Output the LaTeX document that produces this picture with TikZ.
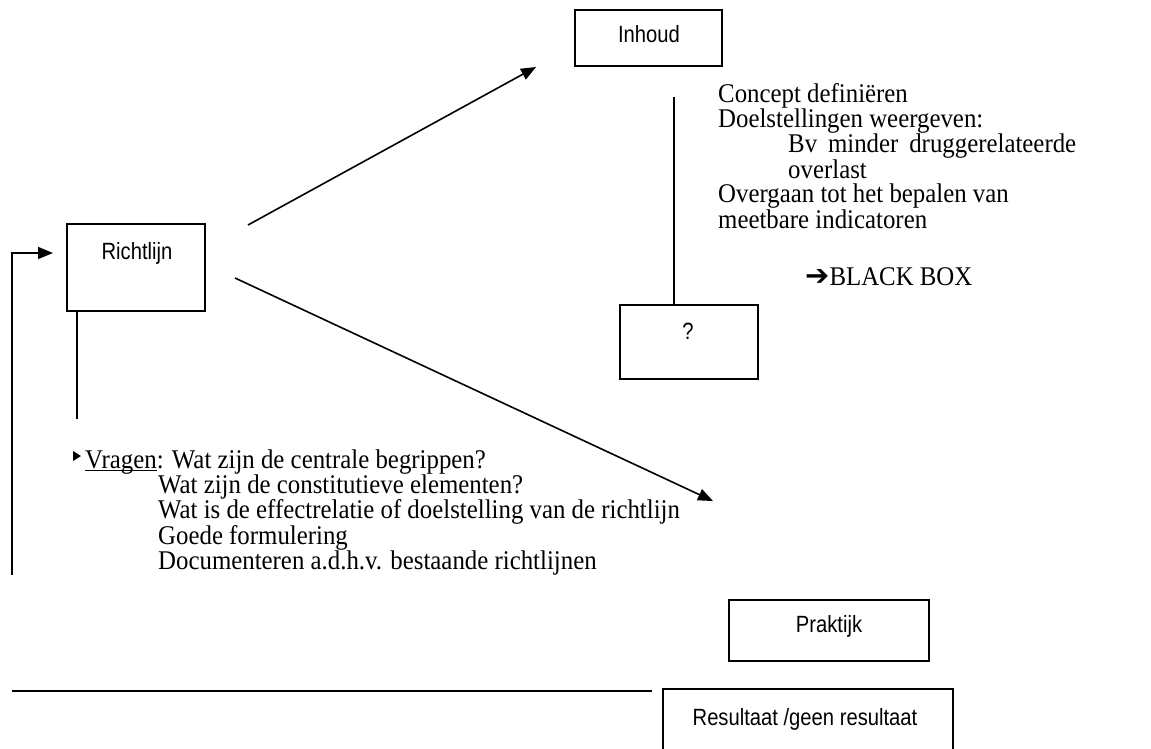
\documentclass[tikz,border=0pt]{standalone}
\usepackage{fontspec}
\setmainfont{Liberation Serif}
\newfontfamily\notefont[FakeStretch=0.92]{Liberation Serif}
\newfontfamily\boxfont[FakeStretch=0.86]{Liberation Sans}
\newfontfamily\symfont{DejaVu Sans}
\usetikzlibrary{arrows.meta}

\newcommand\notesize{\notefont\fontsize{27}{24.5}\selectfont}
\newcommand\qsize{\notefont\fontsize{27}{25.2}\selectfont}
\newcommand\boxsize{\boxfont\fontsize{23.5}{26}\selectfont}
% underline sitting just below the baseline
\newcommand\underword[1]{\setbox0\hbox{#1}\rlap{\rule[-3pt]{\wd0}{1.3pt}}\box0}

\begin{document}
\begin{tikzpicture}[x=1pt,y=-1pt,
  frame/.style={draw, line width=1.6pt, inner sep=0pt, outer sep=0pt, anchor=north west},
  boxlabel/.style={font=\boxsize, inner sep=0pt, anchor=base},
  notes/.style={font=\notesize, inner sep=0pt, anchor=north west, align=left},
  conn/.style={line width=1.6pt},
  tip/.style={-{Triangle[length=15pt,width=12pt]}}]
\useasboundingbox (0,0) rectangle (1151,749);
\clip (0,0) rectangle (1151,749);

% boxes
\node[frame, minimum width=147pt, minimum height=56pt] (inhoud) at (575,10) {};
\node[frame, minimum width=138pt, minimum height=87pt] (richtlijn) at (67,224) {};
\node[frame, minimum width=138pt, minimum height=74pt] (quest) at (620,305) {};
\node[frame, minimum width=200pt, minimum height=61pt] (praktijk) at (729,600) {};
\node[frame, minimum width=290pt, minimum height=90pt] (resultaat) at (663,689) {};

% box captions
\node[boxlabel] (inhoudtxt) at (649,43) {Inhoud};
\node[boxlabel] (richtlijntxt) at (137,259) {Richtlijn};
\node[boxlabel] (questtxt) at (688,339) {?};
\node[boxlabel] (praktijktxt) at (829,632) {Praktijk};
\node[boxlabel] (resultaattxt) at (805,725) {Resultaat /geen resultaat};

% notes under Inhoud
\node[notes] (inhoudnotes) at (718,83.5) {Concept definiëren\\
Doelstellingen weergeven:\\
\hspace*{70pt}\hbox to 288pt{Bv\hfill minder\hfill druggerelateerde}\\
\hspace*{70pt}overlast\\
Overgaan tot het bepalen van\\
meetbare indicatoren};
\node[notes, anchor=base west] (blackbox) at (805,285) {{\symfont\bfseries\fontsize{29}{24}\selectfont ➔}BLACK BOX};

% questions under Richtlijn
\node[notes, font=\qsize] (vragen) at (85,449.5) {\underword{Vragen}: Wat zijn de centrale begrippen?\\
\hspace*{73pt}Wat zijn de constitutieve elementen?\\
\hspace*{73pt}Wat is de effectrelatie of doelstelling van de richtlijn\\
\hspace*{73pt}Goede formulering\\
\hspace*{73pt}Documenteren a.d.h.v. bestaande richtlijnen};

% connectors
\coordinate (upS) at (248,225);
\coordinate (upE) at (536,67);
\draw[conn, tip] (upS) -- (upE);

\coordinate (loS) at (235,278);
\coordinate (loE) at (713,501);
\draw[conn, tip] (loS) -- (loE);

\coordinate (stemtop) at (674,97);
\draw[conn] (stemtop) -- (stemtop |- quest.north);

\coordinate (rstem) at (77,419);
\draw[conn] (rstem |- richtlijn.south) -- (rstem);

\coordinate (loopfoot) at (12,575);
\coordinate (loophead) at (53,253);
\draw[conn, tip] (loopfoot) |- (loophead);

\coordinate (baseL) at (12,691);
\coordinate (baseR) at (652,691);
\draw[conn] (baseL) -- (baseR);

\coordinate (vtip) at (81,456);
\fill (vtip) -- ++(-8,-5) -- ++(0,10) -- cycle;
\end{tikzpicture}
\end{document}
